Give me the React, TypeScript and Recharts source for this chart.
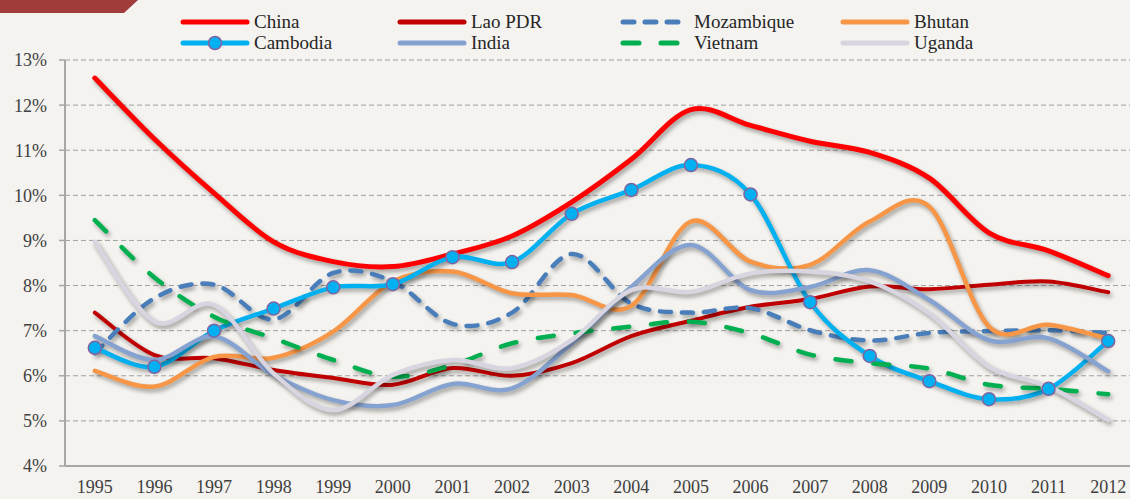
import React from 'react';
import { LineChart, Line, XAxis, YAxis, CartesianGrid, Legend } from 'recharts';

const years = [1995, 1996, 1997, 1998, 1999, 2000, 2001, 2002, 2003, 2004, 2005, 2006, 2007, 2008, 2009, 2010, 2011, 2012];
const yTicks = [4, 5, 6, 7, 8, 9, 10, 11, 12, 13];

const china = [12.6, 11.25, 10.05, 8.97, 8.53, 8.42, 8.7, 9.1, 9.85, 10.8, 11.9, 11.55, 11.2, 10.95, 10.38, 9.17, 8.77, 8.22];
const laoPDR = [7.4, 6.46, 6.39, 6.13, 5.95, 5.8, 6.17, 6.0, 6.28, 6.88, 7.22, 7.53, 7.7, 7.98, 7.92, 8.02, 8.09, 7.85];
const mozambique = [6.5, 7.72, 8.02, 7.25, 8.28, 8.09, 7.15, 7.4, 8.7, 7.6, 7.4, 7.5, 7.01, 6.78, 6.95, 6.99, 7.01, 6.95];
const bhutan = [6.11, 5.76, 6.42, 6.4, 6.98, 8.09, 8.31, 7.83, 7.79, 7.55, 9.42, 8.53, 8.46, 9.42, 9.75, 7.09, 7.13, 6.82];
const cambodia = [6.62, 6.2, 7.0, 7.49, 7.96, 8.03, 8.63, 8.52, 9.59, 10.12, 10.67, 10.02, 7.63, 6.44, 5.88, 5.48, 5.71, 6.77];
const india = [6.88, 6.35, 6.87, 6.02, 5.46, 5.35, 5.82, 5.72, 6.72, 7.97, 8.9, 7.9, 7.97, 8.34, 7.68, 6.79, 6.83, 6.1];
const vietnam = [9.45, 8.18, 7.31, 6.83, 6.35, 5.98, 6.24, 6.72, 6.94, 7.09, 7.2, 6.94, 6.47, 6.28, 6.16, 5.8, 5.71, 5.59];
const uganda = [8.97, 7.2, 7.57, 6.05, 5.24, 6.02, 6.35, 6.17, 6.79, 7.9, 7.86, 8.27, 8.31, 8.09, 7.38, 6.2, 5.76, 5.02];

const seriesNames = ['China', 'Lao PDR', 'Mozambique', 'Bhutan', 'Cambodia', 'India', 'Vietnam', 'Uganda'];
const seriesValues = [china, laoPDR, mozambique, bhutan, cambodia, india, vietnam, uganda];

const styles: Record<string, { color: string; width: number; dash?: string; marker?: boolean }> = {
  China: { color: '#ff0000', width: 5 },
  'Lao PDR': { color: '#c00000', width: 4 },
  Mozambique: { color: '#4a7ebb', width: 4.5, dash: '11 11' },
  Bhutan: { color: '#f79646', width: 4.5 },
  Cambodia: { color: '#00b0f0', width: 4.5, marker: true },
  India: { color: '#86a2d0', width: 4.5 },
  Vietnam: { color: '#00b050', width: 4.5, dash: '16 22' },
  Uganda: { color: '#d8d5e0', width: 4.5 },
};

const data = years.map((year, i) => {
  const row: Record<string, number> = { year };
  seriesNames.forEach((n, k) => {
    row[n] = seriesValues[k][i];
  });
  return row;
});

const halfTicks = [...years.map((y) => y - 0.5), years[years.length - 1] + 0.5];

// Excel-like smoothed line (Catmull-Rom via cubic Bezier)
const excelSmooth = (context: any) => {
  let xs: number[] = [];
  let ys: number[] = [];
  return {
    areaStart() {},
    areaEnd() {},
    lineStart() {
      xs = [];
      ys = [];
    },
    point(x: number, y: number) {
      xs.push(+x);
      ys.push(+y);
    },
    lineEnd() {
      const n = xs.length;
      if (!n) return;
      context.moveTo(xs[0], ys[0]);
      for (let i = 0; i < n - 1; i++) {
        const a = Math.max(i - 1, 0);
        const d = Math.min(i + 2, n - 1);
        const c1x = xs[i] + (xs[i + 1] - xs[a]) / 6;
        const c1y = ys[i] + (ys[i + 1] - ys[a]) / 6;
        const c2x = xs[i + 1] - (xs[d] - xs[i]) / 6;
        const c2y = ys[i + 1] - (ys[d] - ys[i]) / 6;
        context.bezierCurveTo(c1x, c1y, c2x, c2y, xs[i + 1], ys[i + 1]);
      }
    },
  };
};

const FONT = '"Liberation Serif", "DejaVu Serif", serif';
const legendCols = [179, 396, 619, 839];

const LegendContent = () => (
  <div style={{ position: 'relative', width: 1130, height: 56, fontFamily: FONT, fontSize: 19, color: '#262626' }}>
    {seriesNames.map((n, i) => {
      const s = styles[n];
      const col = i % 4;
      const row = Math.floor(i / 4);
      return (
        <div
          key={n}
          style={{ position: 'absolute', left: legendCols[col], top: 11 + row * 21, height: 22, display: 'flex', alignItems: 'center', whiteSpace: 'nowrap' }}
        >
          <svg width={72} height={20} style={{ display: 'block' }}>
            <line
              x1={4}
              x2={68}
              y1={10}
              y2={10}
              stroke={s.color}
              strokeWidth={5}
              strokeLinecap="round"
              strokeDasharray={s.dash}
            />
            {s.marker && <circle cx={36} cy={10} r={6.5} fill="#00b0f0" stroke="#8064a2" strokeWidth={1.5} />}
          </svg>
          <span style={{ marginLeft: 3, lineHeight: '22px' }}>{n}</span>
        </div>
      );
    })}
  </div>
);

export default function App() {
  return (
    <div style={{ position: 'absolute', left: 0, top: 0, width: 1130, height: 499, overflow: 'hidden', background: '#f4f3ef' }}>
      <style>{`.recharts-line-curve { filter: drop-shadow(2px 3px 2px rgba(0,0,0,0.35)); }`}</style>
      <div
        style={{ position: 'absolute', left: 0, top: 0, width: 138, height: 13, background: '#a03c3a', clipPath: 'polygon(0 0, 138px 0, 124px 13px, 0 13px)' }}
      />
      <LineChart width={1150} height={499} data={data} margin={{ top: 60, right: 12, bottom: 0, left: 0 }}>
        <CartesianGrid horizontal vertical={false} stroke="#a0a0a0" strokeDasharray="5 3" strokeWidth={1} />
        <XAxis
          xAxisId="ticks"
          type="number"
          dataKey="year"
          domain={[halfTicks[0], halfTicks[halfTicks.length - 1]]}
          ticks={halfTicks}
          interval={0}
          tickFormatter={() => ''}
          tickSize={6}
          axisLine={false}
          tickLine={{ stroke: '#a6a6a6', strokeWidth: 1.5 }}
          height={0}
          allowDataOverflow
        />
        <XAxis
          xAxisId="main"
          type="number"
          dataKey="year"
          domain={[halfTicks[0], halfTicks[halfTicks.length - 1]]}
          ticks={years}
          interval={0}
          tickLine={false}
          tickSize={0}
          tickMargin={14}
          axisLine={{ stroke: '#a6a6a6', strokeWidth: 2 }}
          height={33}
          tick={{ fontFamily: FONT, fontSize: 18, fill: '#404040' }}
          allowDataOverflow
        />
        <YAxis
          type="number"
          domain={[4, 13]}
          ticks={yTicks}
          interval={0}
          tickFormatter={(v: number) => `${v}%`}
          width={65}
          tickSize={6}
          tickMargin={12}
          axisLine={{ stroke: '#a6a6a6', strokeWidth: 2 }}
          tickLine={{ stroke: '#a6a6a6', strokeWidth: 1.5 }}
          tick={{ fontFamily: FONT, fontSize: 18, fill: '#404040' }}
          allowDataOverflow
        />
        <Legend
          layout="vertical"
          verticalAlign="middle"
          align="center"
          content={<LegendContent />}
          wrapperStyle={{ position: 'absolute', left: 0, top: 0, width: 1130, height: 56 }}
        />
        {seriesNames.map((n) => {
          const s = styles[n];
          return (
            <Line
              key={n}
              xAxisId="main"
              dataKey={n}
              name={n}
              type={excelSmooth as any}
              stroke={s.color}
              strokeWidth={s.width}
              strokeDasharray={s.dash}
              strokeLinecap="round"
              dot={s.marker ? { r: 6.5, fill: '#00b0f0', stroke: '#8064a2', strokeWidth: 1.5 } : false}
              activeDot={false}
              isAnimationActive={false}
            />
          );
        })}
      </LineChart>
    </div>
  );
}
